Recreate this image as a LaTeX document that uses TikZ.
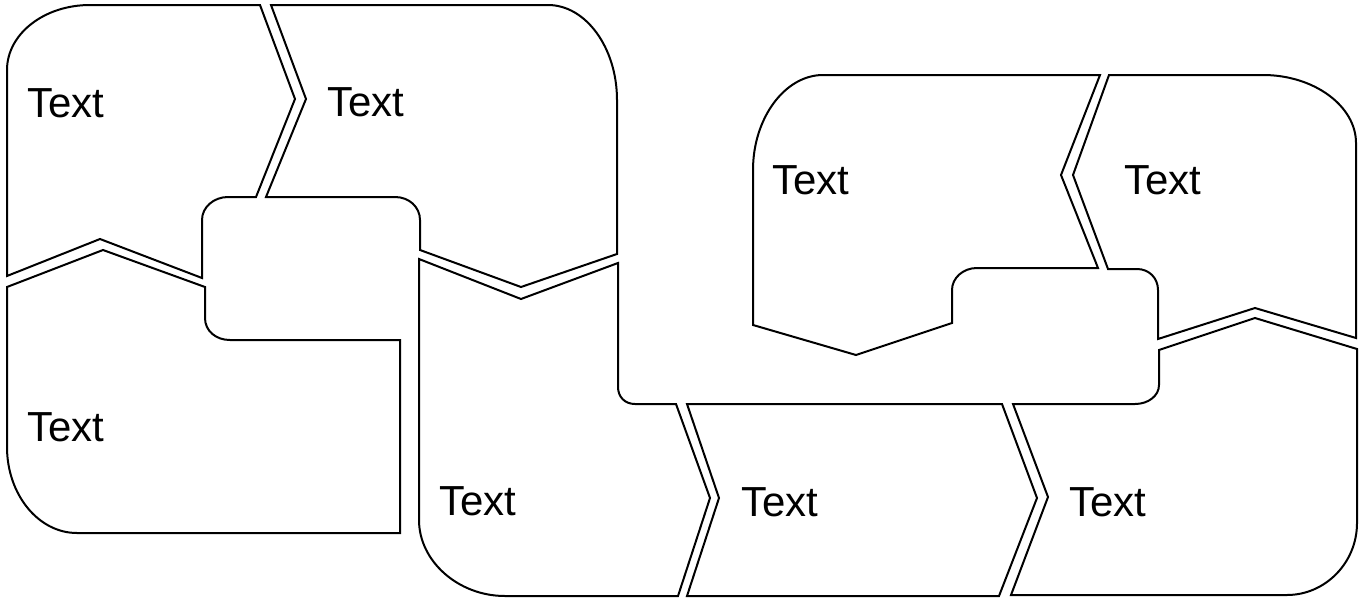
\documentclass[tikz,border=0pt]{standalone}
\usepackage{fontspec}
\setmainfont{Liberation Sans}
\begin{document}
\begin{tikzpicture}[x=1pt,y=-1pt,
  piece/.style={draw=black,line width=2pt,fill=white,line join=miter},
  lbl/.style={anchor=base west,inner sep=0pt,font=\fontsize{42}{50}\selectfont}]
\useasboundingbox (0,0) rectangle (1359,597);
% shape 1 (top left)
\draw[piece] (7,70) .. controls (7,34) and (44,5) .. (90,5) -- (260,5) -- (295,99) -- (256,197) -- (228,197)
  .. controls (214,197) and (202,207) .. (202,220) -- (202,278) -- (100,239) -- (7,276) -- cycle;
% shape 2 (top middle)
\draw[piece] (271,5) -- (548,5) .. controls (586,5) and (617,48) .. (617,100) -- (617,254) -- (521,287) -- (420,250)
  -- (420,220) .. controls (420,207) and (409,197) .. (395,197) -- (266,197) -- (306,99) -- cycle;
% shape 3 (bottom left)
\draw[piece] (7,287) -- (103,250) -- (205,287) -- (205,318) .. controls (205,331) and (216,340) .. (230,340)
  -- (400,340) -- (400,533) -- (77,533) .. controls (38,533) and (7,494) .. (7,447) -- cycle;
% shape 4 (bottom middle)
\draw[piece] (419,259) -- (521,299) -- (618,263) -- (618,387) .. controls (618,397) and (625,404) .. (635,404)
  -- (676,404) -- (710,498) -- (678,596) -- (505,596) .. controls (458,596) and (419,561) .. (419,520) -- cycle;
% shape 5
\draw[piece] (687,404) -- (1002,404) -- (1037,498) -- (999,596) -- (687,596) -- (719,498) -- cycle;
% shape 6 (bottom right)
\draw[piece] (1013,404) -- (1135,404) .. controls (1148,404) and (1159,396) .. (1159,385) -- (1159,350)
  -- (1255,318) -- (1357,349) -- (1357,523) .. controls (1357,563) and (1325,595) .. (1287,595)
  -- (1011,595) -- (1048,497) -- cycle;
% shape 7 (upper right middle)
\draw[piece] (753,170) .. controls (753,118) and (785,75) .. (823,75) -- (1100,75) -- (1061,175) -- (1098,268)
  -- (977,268) .. controls (963,268) and (952,278) .. (952,290) -- (952,323) -- (856,355) -- (753,325) -- cycle;
% shape 8 (upper right)
\draw[piece] (1109,75) -- (1263,75) .. controls (1314,75) and (1356,106) .. (1356,143) -- (1356,338)
  -- (1255,308) -- (1158,339) -- (1158,290) .. controls (1158,278) and (1149,269) .. (1137,269)
  -- (1108,269) -- (1073,175) -- cycle;
% labels
\node[lbl] (t1) at (27,117) {Text};
\node[lbl] (t2) at (327,116) {Text};
\node[lbl] (t3) at (27,441) {Text};
\node[lbl] (t4) at (439,515) {Text};
\node[lbl] (t5) at (741,516) {Text};
\node[lbl] (t6) at (1069,516) {Text};
\node[lbl] (t7) at (772,194) {Text};
\node[lbl] (t8) at (1124,194) {Text};
\end{tikzpicture}
\end{document}
